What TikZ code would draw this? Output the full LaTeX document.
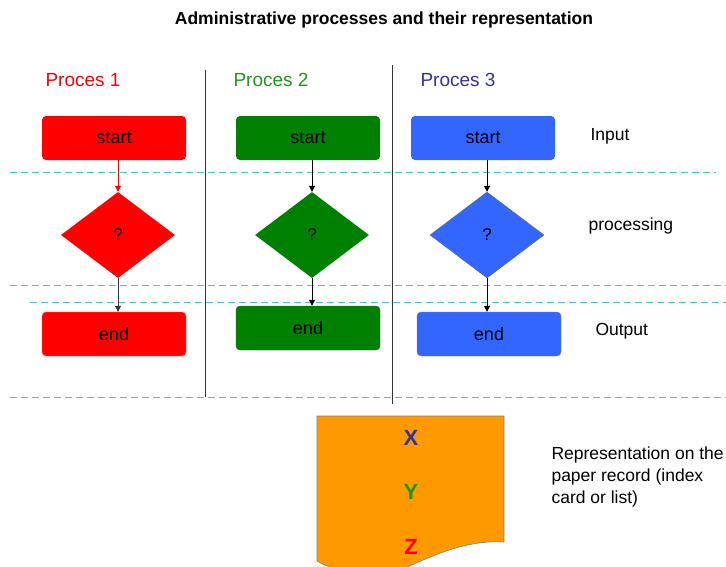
\documentclass[tikz,border=0pt]{standalone}
\usepackage{fontspec}
\setmainfont{Liberation Sans}
\usetikzlibrary{shapes.geometric,arrows.meta}
\definecolor{cred}{RGB}{255,0,0}
\definecolor{cgreen}{RGB}{0,128,0}
\definecolor{cblue}{RGB}{51,102,255}
\definecolor{corange}{RGB}{255,153,0}
\definecolor{cdash}{RGB}{70,200,190}
\definecolor{tgreen}{RGB}{30,150,30}
\definecolor{tblue}{RGB}{50,50,160}
\tikzset{
  box/.style={rounded corners=4pt, minimum width=144pt, minimum height=44pt, inner sep=0pt, font=\fontsize{18}{21}\selectfont, text=black},
  dia/.style={diamond, minimum width=114pt, minimum height=86pt, inner sep=0pt, font=\fontsize{17}{20}\selectfont, text=black},
  sep/.style={cdash, line width=1pt, dash pattern=on 7pt off 4pt},
  lane/.style={black!80, line width=1pt},
  flow/.style={line width=1pt, -{Triangle[length=6pt,width=6pt]}},
  lbl/.style={font=\fontsize{17.5}{22}\selectfont, anchor=west},
  hdr/.style={font=\fontsize{19}{22}\selectfont, anchor=west},
  big/.style={font=\bfseries\fontsize{22}{24}\selectfont}
}
\begin{document}
\begin{tikzpicture}[x=1pt, y=-1pt]
\useasboundingbox (0,0) rectangle (726,566);
\begin{scope}
\clip (0,0) rectangle (726,566);
% title
\node[font=\bfseries\fontsize{17.5}{20}\selectfont] (title) at (384,20) {Administrative processes and their representation};
% separators
\coordinate (s1a) at (10,172); \coordinate (s1b) at (716,172);
\coordinate (s2a) at (10,285); \coordinate (s2b) at (726,285);
\coordinate (s3a) at (30,302); \coordinate (s3b) at (726,302);
\coordinate (s4a) at (10,397); \coordinate (s4b) at (726,397);
\draw[sep] (s1a) -- (s1b);
\draw[sep] (s2a) -- (s2b);
\draw[sep] (s3a) -- (s3b);
\draw[sep] (s4a) -- (s4b);
% lanes
\coordinate (l1a) at (205,70); \coordinate (l1b) at (205,397);
\coordinate (l2a) at (392,65); \coordinate (l2b) at (392,404);
\draw[lane] (l1a) -- (l1b);
\draw[lane] (l2a) -- (l2b);
% headers
\node[hdr, text=cred] (h1) at (42,80) {Proces 1};
\node[hdr, text=tgreen] (h2) at (230,80) {Proces 2};
\node[hdr, text=tblue] (h3) at (417,80) {Proces 3};
% process 1
\node[box, fill=cred] (st1) at (114,138) {start};
\node[dia, fill=cred] (d1) at (118,235) {?};
\node[box, fill=cred, draw=cred!60] (en1) at (114,334) {end};
\draw[flow, cred, line width=0.6pt] (st1.south -| d1.north) -- (d1.north);
\draw[flow, black!80, line width=0.6pt] (d1.south) -- (d1.south |- en1.north);
% process 2
\node[box, fill=cgreen] (st2) at (308,138) {start};
\node[dia, fill=cgreen] (d2) at (312,235) {?};
\node[box, fill=cgreen, draw=black!70] (en2) at (308,328) {end};
\draw[flow] (st2.south -| d2.north) -- (d2.north);
\draw[flow] (d2.south) -- (d2.south |- en2.north);
% process 3
\node[box, fill=cblue] (st3) at (483,138) {start};
\node[dia, fill=cblue, draw=black!60] (d3) at (487,235) {?};
\node[box, fill=cblue, draw=black!50] (en3) at (489,334) {end};
\draw[flow] (st3.south -| d3.north) -- (d3.north);
\draw[flow] (d3.south) -- (d3.south |- en3.north);
% side labels
\node[lbl] (in) at (587,136) {Input};
\node[lbl] (pr) at (585,226) {processing};
\node[lbl] (out) at (592,331) {Output};
% paper record
\draw[fill=corange, draw=black!50, line width=0.6pt]
  (317,416) -- (504,416) -- (504,542)
  .. controls (470,540) and (440,552) .. (405,568)
  .. controls (375,580) and (335,572) .. (317,561) -- cycle;
\node[big, text=tblue] (x) at (411,438) {X};
\node[big, text=tgreen] (y) at (411,492) {Y};
\node[big, text=cred] (z) at (411,547) {Z};
\node[lbl, align=left] (rep) at (548,477) {Representation on the\\paper record (index\\card or list)};
\end{scope}
\end{tikzpicture}
\end{document}
